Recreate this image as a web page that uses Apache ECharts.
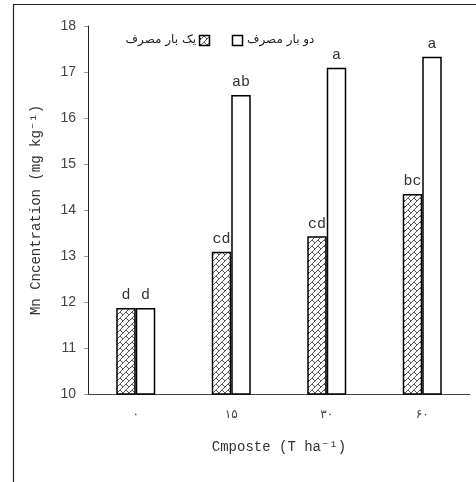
<!DOCTYPE html>
<html><head><meta charset="utf-8">
<script src="https://cdn.jsdelivr.net/npm/echarts@6/dist/echarts.min.js"></script>
<style>html,body{margin:0;padding:0;background:#fff}#c{width:476px;height:482px}</style>
</head><body><div id="c"></div>
<script>
var categories = ['۰', '۱۵', '۳۰', '۶۰'];
var onceValues = [11.87, 13.09, 13.43, 14.35];
var twiceValues = [11.87, 16.5, 17.09, 17.33];
var onceLetters = ['d', 'cd', 'cd', 'bc'];
var twiceLetters = ['d', 'ab', 'a', 'a'];
var seriesNames = ['یک بار مصرف', 'دو بار مصرف'];
var yTicks = [10, 11, 12, 13, 14, 15, 16, 17, 18];

function makePattern() {
  var c = document.createElement('canvas');
  c.width = 6; c.height = 6;
  var g = c.getContext('2d');
  g.fillStyle = '#fff'; g.fillRect(0, 0, 6, 6);
  g.strokeStyle = '#444'; g.lineWidth = 0.9;
  g.beginPath();
  g.moveTo(0, 6); g.lineTo(6, 0);
  g.moveTo(-1, 1); g.lineTo(1, -1);
  g.moveTo(5, 7); g.lineTo(7, 5);
  g.moveTo(0, 0); g.lineTo(3, 3);
  g.stroke();
  return c;
}
var pat = makePattern();

var chart = echarts.init(document.getElementById('c'));
var mono = '"Liberation Mono", "DejaVu Sans Mono", monospace';
chart.setOption({
  animation: false,
  grid: { left: 88, right: 6, top: 26, bottom: 88 },
  xAxis: {
    type: 'category', data: categories,
    axisLine: { lineStyle: { color: '#444', width: 1 } },
    axisTick: { show: false },
    axisLabel: { color: '#444', fontSize: 12, margin: 15, fontFamily: '"DejaVu Sans", "Noto Sans"' },
    name: 'Cmposte (T ha⁻¹)', nameLocation: 'middle', nameGap: 46,
    nameTextStyle: { color: '#333', fontSize: 14, fontFamily: mono }
  },
  yAxis: {
    type: 'value', min: 10, max: 18, interval: 1,
    axisLine: { show: true, lineStyle: { color: '#222', width: 1 } },
    axisTick: { show: true, length: 4, lineStyle: { color: '#999' } },
    splitLine: { show: false },
    axisLabel: { color: '#444', fontSize: 14, margin: 12, fontFamily: '"Liberation Sans", Arial' },
    name: 'Mn Cncentration (mg kg⁻¹)', nameLocation: 'middle', nameGap: 45,
    nameTextStyle: { color: '#333', fontSize: 14, fontFamily: mono }
  },
  series: [
    {
      name: seriesNames[0], type: 'bar', data: onceValues, barWidth: 19.5, barGap: '0%',
      itemStyle: { color: { image: pat, repeat: 'repeat' }, borderColor: '#000', borderWidth: 1.5 },
      label: { show: true, position: 'top', distance: 5, color: '#333', fontSize: 15, fontFamily: mono,
        formatter: function (p) { return onceLetters[p.dataIndex]; } }
    },
    {
      name: seriesNames[1], type: 'bar', data: twiceValues, barWidth: 19.5, barGap: '0%',
      itemStyle: { color: '#fff', borderColor: '#000', borderWidth: 1.5 },
      label: { show: true, position: 'top', distance: 5, color: '#333', fontSize: 15, fontFamily: mono,
        formatter: function (p) { return twiceLetters[p.dataIndex]; } }
    }
  ],
  graphic: [
    { type: 'rect', shape: { x: 13.5, y: 4.5, width: 600, height: 600 }, style: { fill: 'none', stroke: '#222', lineWidth: 1.2 }, silent: true },
    { type: 'text', x: 196, y: 40, style: { text: seriesNames[0], fontSize: 12, fill: '#222', align: 'right', verticalAlign: 'middle', fontFamily: '"DejaVu Sans", "Noto Sans"' } },
    { type: 'rect', shape: { x: 199.5, y: 35.5, width: 10, height: 10 }, style: { fill: { image: pat, repeat: 'repeat' }, stroke: '#000', lineWidth: 1.5 } },
    { type: 'rect', shape: { x: 232.5, y: 35.5, width: 10, height: 10 }, style: { fill: '#fff', stroke: '#000', lineWidth: 1.5 } },
    { type: 'text', x: 247, y: 40, style: { text: seriesNames[1], fontSize: 12, fill: '#222', align: 'left', verticalAlign: 'middle', fontFamily: '"DejaVu Sans", "Noto Sans"' } }
  ]
});
</script></body></html>
